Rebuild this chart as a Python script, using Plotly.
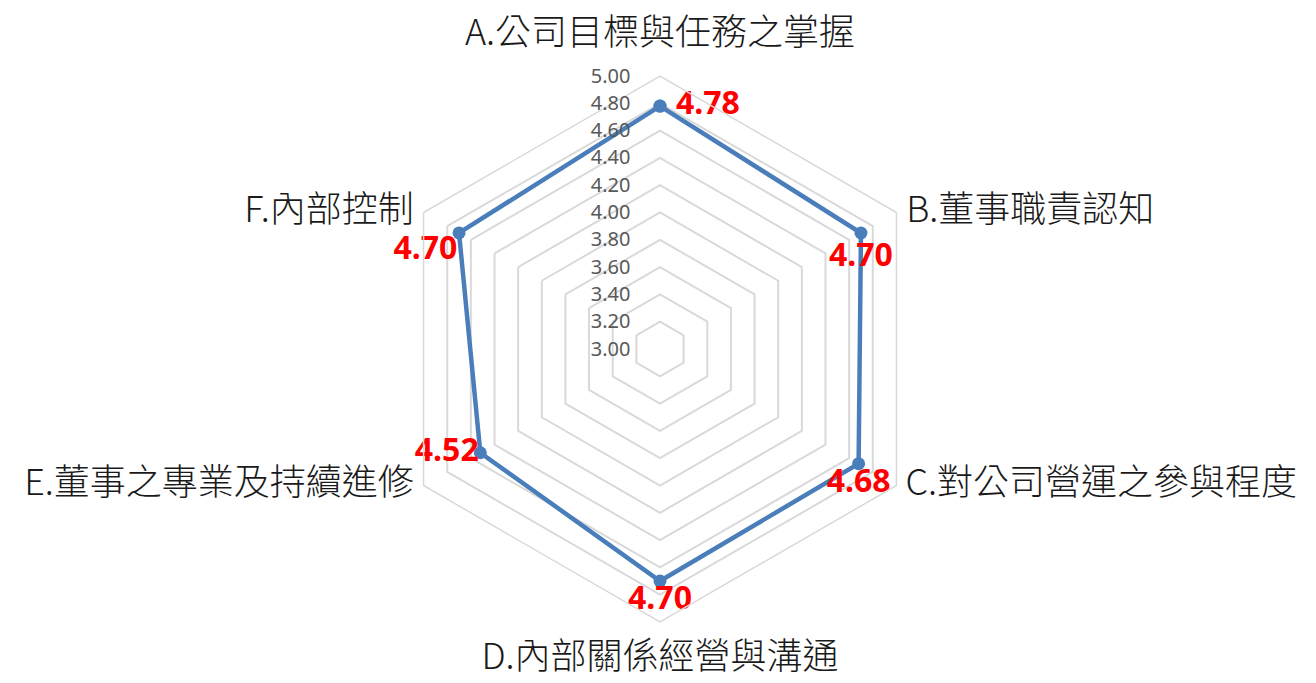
import plotly.graph_objects as go

categories = ["A.公司目標與任務之掌握", "B.董事職責認知", "C.對公司營運之參與程度",
              "D.內部關係經營與溝通", "E.董事之專業及持續進修", "F.內部控制"]
values = [4.78, 4.70, 4.68, 4.70, 4.52, 4.70]
value_labels = ["4.78", "4.70", "4.68", "4.70", "4.52", "4.70"]
tick_values = [3.0, 3.2, 3.4, 3.6, 3.8, 4.0, 4.2, 4.4, 4.6, 4.8, 5.0]
tick_labels = ["3.00", "3.20", "3.40", "3.60", "3.80", "4.00", "4.20", "4.40", "4.60", "4.80", "5.00"]

# styling
value_label_pos = ["middle right", "bottom center", "bottom center",
                   "bottom center", "middle left", "bottom left"]
value_label_pad = [24, 13, 6, 5, 1, 1]     # invisible marker sizes -> text offset
cat_label_pos = ["top center", "middle right", "middle right",
                 "bottom center", "middle left", "middle left"]
cat_label_pad = [34, 14, 13, 31, 14, 14]
AXIS_MAX = 5.0
AXIS_MIN = 3.0

W, H = 1316, 683
cx, cy, R = 660, 349, 273

fig = go.Figure()
fig.add_trace(go.Scatterpolar(
    r=values + [values[0]],
    theta=categories + [categories[0]],
    mode="lines+markers",
    line=dict(color="#4A7EBB", width=4.5),
    marker=dict(size=13, color="#4A7EBB"),
    hoverinfo="skip",
    showlegend=False,
))
fig.add_trace(go.Scatterpolar(
    r=values,
    theta=categories,
    mode="markers+text",
    marker=dict(size=value_label_pad, opacity=0),
    text=value_labels,
    textposition=value_label_pos,
    textfont=dict(family="Noto Sans, Noto Sans CJK TC", size=32, color="#FF0000", weight="bold"),
    hoverinfo="skip",
    showlegend=False,
    cliponaxis=False,
))
# category labels drawn at the outer edge of the radial scale
fig.add_trace(go.Scatterpolar(
    r=[AXIS_MAX] * len(categories),
    theta=categories,
    mode="markers+text",
    marker=dict(size=cat_label_pad, opacity=0),
    text=categories,
    textposition=cat_label_pos,
    textfont=dict(family="Noto Sans CJK TC", size=36, color="#1A1A1A", weight=300),
    hoverinfo="skip",
    showlegend=False,
    cliponaxis=False,
))

fig.update_layout(
    width=W, height=H,
    margin=dict(l=0, r=0, t=0, b=0),
    paper_bgcolor="white",
    plot_bgcolor="white",
    showlegend=False,
    polar=dict(
        domain=dict(x=[(cx - R) / W, (cx + R) / W], y=[(H - cy - R) / H, (H - cy + R) / H]),
        bgcolor="white",
        gridshape="linear",
        radialaxis=dict(
            range=[AXIS_MIN, AXIS_MAX],
            tickvals=tick_values,
            ticktext=tick_labels,
            angle=90,
            tickangle=90,
            side="counterclockwise",
            showline=False,
            showgrid=True,
            gridcolor="#D9D9D9",
            gridwidth=1.5,
            ticks="outside",
            ticklen=22,
            tickcolor="rgba(0,0,0,0)",
            tickfont=dict(family="Noto Sans, Noto Sans CJK TC", size=20, color="#595959"),
        ),
        angularaxis=dict(
            direction="clockwise",
            rotation=90,
            showgrid=False,
            showline=True,
            linecolor="#D9D9D9",
            linewidth=1.5,
            ticks="",
            showticklabels=False,
        ),
    ),
)

fig.write_html("out.html", config={"displayModeBar": False},
               post_script="document.body.style.margin='0';")
